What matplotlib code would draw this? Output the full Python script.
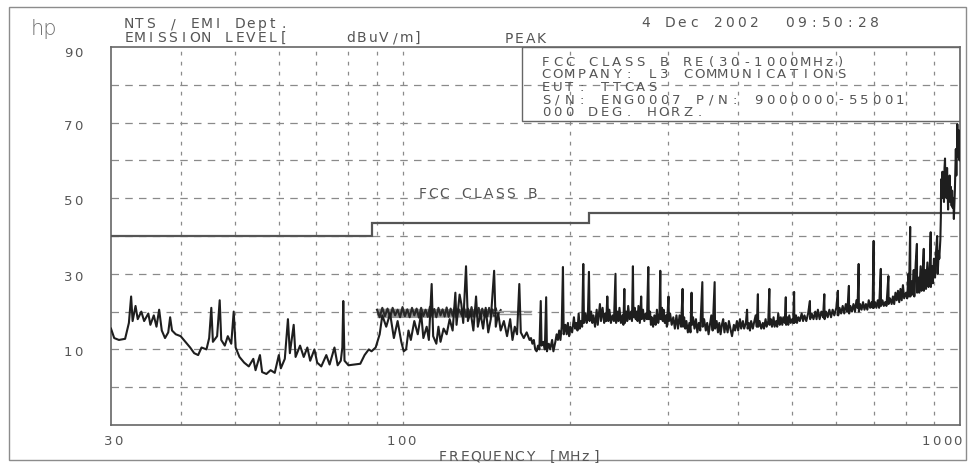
import matplotlib
matplotlib.use('Agg')
import matplotlib.pyplot as plt
from matplotlib.patches import Rectangle
from matplotlib.ticker import NullLocator


# ============================================================================
# Scan data: radiated emissions, peak detector
# frequency [MHz] / level [dBuV/m]
# ============================================================================

# 30 - 88 MHz
low_f = [
    30.0, 30.4, 31.0, 31.8, 32.3, 32.6, 32.8, 33.2, 33.5, 34.0, 34.4, 35.0, 35.3, 35.8,
    36.2, 36.6, 37.0, 37.5, 38.0, 38.3, 38.6, 39.2, 40.0, 40.8, 41.6, 42.3, 43.0, 43.6,
    44.5, 45.0, 45.4, 45.7, 46.5, 47.0, 47.3, 48.0, 48.6, 49.3, 49.8, 50.2, 51.0, 52.0,
    53.0, 54.0, 54.5, 55.5, 56.0, 57.0, 58.0, 59.0, 60.0, 60.5, 61.5, 62.3, 62.8, 63.8,
    64.3, 65.5, 66.5, 67.5, 68.3, 69.5, 70.3, 71.5, 73.0, 74.0, 75.5, 76.5, 77.5, 78.0,
    78.3, 78.7, 80.0, 82.0, 84.0, 85.5, 87.0,
]
low_db = [
    15.5, 13.0, 12.5, 12.8, 17.0, 24.0, 17.5, 21.5, 18.0, 20.0, 17.5, 19.5, 16.5, 19.0,
    16.0, 20.5, 15.0, 13.0, 14.5, 18.5, 15.0, 14.0, 13.5, 12.0, 10.5, 9.0, 8.5, 10.5,
    10.0, 13.0, 21.0, 12.0, 13.5, 23.0, 12.5, 11.0, 13.5, 11.5, 20.0, 10.5, 8.0, 6.5,
    5.5, 7.5, 4.5, 8.5, 4.0, 3.5, 4.5, 3.8, 8.5, 5.0, 7.5, 18.0, 9.0, 16.5,
    8.0, 11.0, 8.0, 10.5, 7.0, 10.0, 6.5, 5.5, 8.5, 6.0, 10.5, 5.8, 7.0, 10.5,
    22.8, 7.0, 5.8, 6.0, 6.2, 8.5, 10.0,
]

# 88 - 170 MHz
mid_f = [
    88.0, 89.5, 91.0, 92.0, 93.5, 95.0, 96.5, 98.0, 99.5, 100.5, 101.5, 102.5, 103.5,
    105.0, 106.5, 108.0, 109.0, 110.5, 111.5, 112.8, 113.5, 115.0, 116.0, 117.0, 118.5,
    120.0, 121.5, 123.0, 124.4, 125.0, 126.6, 127.5, 128.5, 130.0, 131.0, 132.5, 134.0,
    135.5, 136.5, 138.0, 139.5, 141.0, 142.5, 144.0, 146.0, 147.0, 148.5, 150.0, 152.0,
    154.0, 156.0, 157.5, 159.0, 160.5, 162.0, 163.0, 165.0, 167.0, 169.0,
]
mid_db = [
    9.5, 10.5, 14.0, 19.0, 16.0, 19.5, 13.0, 17.5, 12.0, 9.5, 10.0, 15.0, 12.5,
    17.5, 14.0, 19.5, 13.0, 16.0, 12.5, 27.3, 13.5, 11.5, 16.0, 12.0, 15.5,
    14.0, 18.0, 15.0, 25.0, 16.5, 24.5, 22.0, 17.0, 32.0, 17.5, 20.0, 15.0,
    24.0, 16.0, 19.5, 15.5, 21.0, 14.5, 18.0, 30.8, 16.0, 19.5, 15.0, 17.5,
    13.5, 18.0, 12.5, 16.0, 14.0, 27.3, 14.5, 13.0, 14.5, 12.5,
]

# 170 - 1000 MHz
high_f = [
    170, 171, 172, 173, 174, 175, 176, 177, 177.6, 179, 180, 181, 181.6, 183, 184, 185.5,
    186.5, 188, 189, 190, 191, 192, 193, 194, 194.6, 196, 197, 198, 199, 200, 201.5, 203,
    204, 205, 206, 207, 208, 209, 210, 211, 211.6, 213, 214, 215, 216, 216.6, 218, 219,
    220, 221.5, 223, 224, 226, 227, 228.5, 230, 231, 232, 233, 234, 235, 236.5, 238, 239.5,
    241, 241.6, 243, 244, 245, 246.5, 248, 249, 250, 250.6, 252, 253, 254, 255.5, 257, 258,
    259, 259.6, 261, 262, 263, 264, 265, 266.5, 268, 268.6, 270, 271.5, 273, 274.5, 276,
    276.6, 278, 279, 280, 281.5, 283, 284.5, 286, 287.5, 289, 290, 290.6, 292, 293, 294,
    295.5, 297, 298, 300, 300.6, 302, 304, 306, 308, 310, 312, 314, 316, 318, 318.6, 320,
    321.5, 323, 325, 327, 328.5, 330, 330.6, 332, 334, 336, 338, 340, 342, 345, 345.6,
    347.5, 350, 352, 354, 356, 358, 360, 363, 363.6, 366, 368, 370, 372, 374, 376, 378,
    380, 383, 385, 388, 390, 393, 395, 398, 400, 403, 405, 408, 410, 413, 415, 416, 418,
    420, 422, 425, 427, 430, 432, 434, 434.6, 437, 440, 443, 445, 448, 450, 453, 455,
    455.6, 458, 460, 463, 465, 468, 470, 472, 475, 477, 480, 482, 485, 487, 487.6, 490,
    492, 494, 497, 500, 502, 504, 504.6, 508, 510, 513, 516, 520, 523, 526, 530, 534, 538,
    538.6, 542, 546, 550, 553, 556, 560, 564, 568, 571, 571.6, 575, 579, 583, 587, 591,
    595, 600, 604, 604.6, 608, 612, 616, 620, 624, 628, 632, 632.6, 636, 640, 644, 648,
    652, 655, 658, 658.6, 662, 666, 670, 674, 678, 682, 686, 690, 694, 697, 700, 700.6,
    704, 708, 712, 716, 721, 721.6, 726, 730, 734, 738, 744, 744.6, 749, 754, 758, 762,
    766, 770, 774, 778, 782, 786, 790, 794, 800, 804, 808, 810, 814, 814.6, 819, 822, 826,
    828, 833, 837, 837.6, 842, 845, 850, 853, 857, 861, 861.6, 866, 869, 874, 878, 882,
    886, 886.6, 891, 894, 898, 902, 906, 910, 912, 916, 918, 922, 924, 925, 928, 930, 932,
    934, 936, 938, 940, 942, 944, 946, 948, 950, 952, 954, 956, 958, 960, 963, 966, 968,
    970, 973, 975, 977, 979, 981, 983, 985, 986, 988, 989, 991, 992, 994, 995, 997, 998,
    999, 1000,
]
high_db = [
    13.0, 11.5, 12.5, 10.0, 9.5, 11.0, 10.0, 22.8, 11.0, 12.0, 10.0, 23.8, 9.5, 11.5, 10.0, 12.5,
    9.5, 12.0, 14.0, 12.5, 15.0, 12.5, 16.0, 31.8, 14.0, 16.5, 14.0, 17.0, 13.5, 16.0, 14.5, 18.5,
    15.5, 17.0, 15.0, 19.5, 15.5, 17.5, 16.0, 32.6, 17.0, 19.5, 17.0, 18.5, 30.5, 17.5, 20.0, 17.0,
    19.0, 16.0, 20.5, 16.5, 22.0, 17.5, 21.0, 17.0, 19.5, 17.5, 24.0, 17.5, 20.5, 17.0, 19.0, 17.5,
    30.0, 17.0, 20.0, 17.5, 21.0, 17.0, 19.0, 16.5, 26.0, 17.0, 20.0, 17.5, 21.5, 18.0, 20.0, 17.5,
    32.0, 18.5, 21.0, 18.0, 20.0, 17.5, 21.5, 17.0, 24.0, 18.0, 20.5, 17.5, 19.5, 18.0, 31.8,
    18.0, 20.0, 16.5, 18.5, 16.0, 19.0, 16.5, 20.5, 17.0, 19.0, 30.8, 18.0, 21.0, 17.5, 20.5,
    17.0, 19.0, 16.0, 24.0, 17.5, 19.5, 16.5, 18.5, 15.5, 19.0, 15.5, 19.0, 16.0, 26.0, 16.0, 18.5,
    15.5, 17.5, 14.5, 17.0, 14.5, 25.0, 16.5, 18.5, 15.5, 18.0, 14.5, 17.0, 15.0, 27.8, 16.0,
    18.0, 15.0, 17.0, 14.0, 16.5, 19.0, 15.0, 27.8, 15.5, 17.5, 14.5, 17.0, 14.0, 16.5, 18.0, 14.5,
    17.0, 14.5, 17.5, 15.0, 13.5, 16.5, 15.0, 17.5, 15.0, 18.0, 15.5, 17.5, 15.5, 17.0, 20.5, 15.5, 17.0,
    15.0, 17.5, 15.5, 17.0, 19.0, 16.0, 24.6, 16.0, 17.5, 15.5, 17.0, 15.5, 18.0, 16.0, 17.5, 26.0,
    16.5, 18.0, 16.0, 18.5, 16.0, 17.5, 16.0, 19.5, 16.5, 18.5, 16.5, 18.5, 17.0, 23.8, 16.5, 18.5,
    16.5, 19.0, 17.0, 18.0, 17.0, 25.2, 17.0, 19.0, 17.0, 18.5, 17.5, 19.5, 17.5, 19.0, 17.5, 19.5, 22.8,
    18.0, 19.5, 18.0, 20.0, 18.0, 20.5, 18.0, 20.0, 18.5, 24.6, 18.0, 20.0, 18.5, 20.5, 18.5, 20.5,
    19.0, 21.0, 25.5, 19.0, 21.0, 19.5, 21.5, 19.5, 22.0, 20.0, 26.8, 19.5, 21.5, 20.0, 22.0, 20.0,
    23.0, 21.0, 32.6, 20.0, 22.0, 20.5, 22.5, 20.5, 22.0, 20.5, 23.0, 21.0, 22.5, 21.0, 38.7, 21.0,
    22.5, 21.0, 23.0, 21.0, 31.3, 21.5, 23.0, 21.5, 22.5, 21.5, 29.4, 22.0, 23.5, 22.0, 24.0, 22.0,
    25.0, 23.0, 25.5, 22.5, 26.0, 23.0, 27.0, 23.5, 25.0, 23.5, 30.0, 24.0, 42.4, 24.0, 28.0, 24.5, 31.0,
    24.0, 33.0, 37.9, 25.0, 29.0, 25.0, 32.0, 25.5, 30.0, 36.6, 25.5, 31.0, 26.0, 33.0, 26.5, 30.0,
    41.0, 26.5, 32.0, 27.5, 34.0, 29.0, 36.0, 40.0, 30.0, 36.0, 34.0, 39.0, 45.0, 55.0, 50.0, 57.0, 52.0,
    56.0, 49.0, 58.0, 60.5, 51.0, 56.0, 50.0, 58.0, 52.0, 47.0, 55.0, 52.0, 56.0, 49.0, 53.0, 48.0, 52.0,
    47.5, 50.0, 44.5, 48.0, 52.0, 58.0, 63.0, 56.0, 60.0, 64.0, 69.6, 61.0, 66.0, 62.0, 68.0, 63.0, 60.0,
    67.0, 66.0,
]

# dense max-hold band between 90 and 150 MHz
band_f = [
    90, 91, 92, 93, 94, 95, 96, 97, 98, 99, 100, 101, 102, 103, 104, 105, 106, 107, 108,
    109, 110, 111, 112, 113, 114, 115, 116, 117, 118, 119, 120, 121, 122, 123, 124, 125,
    126, 128, 129, 130, 131, 132, 133, 134, 135, 136, 137, 138, 139, 140, 141, 142, 143,
    144, 145, 146, 147, 148, 150,
]
band_db = [
    20.5, 18.5, 21.0, 18.8, 20.8, 18.5, 21.0, 19.0, 20.5, 18.5, 21.2, 18.8, 20.6, 18.5,
    21.0, 19.0, 20.8, 18.4, 21.0, 18.8, 20.5, 18.6, 21.3, 18.9, 20.7, 18.5, 21.0, 19.0,
    20.6, 18.7, 21.1, 18.6, 20.8, 18.9, 21.0, 18.5, 20.7, 18.8, 21.0, 18.6, 20.8, 19.0,
    21.2, 18.7, 20.6, 18.9, 21.0, 18.6, 20.8, 19.0, 20.5, 18.8, 21.0, 19.2, 20.6, 18.9,
    20.9, 19.1, 20.4,
]
band_span_f = [90, 146]
band_lo = [18.4, 18.6]
band_hi = [20.9, 20.8]
tail_f = [146, 170]
tail_db = [20.2, 19.4]

# FCC class B limit (3 m)
limit_edges = [30, 88, 216, 1000]
limit_db = [40, 43.5, 46]

grid_f = [40, 50, 60, 70, 80, 90, 100, 200, 300, 400, 500, 600, 700, 800, 900]
grid_db = [0, 10, 20, 30, 40, 50, 60, 70, 80]

ytick_db = [90, 70, 50, 30, 10]
ytick_labels = ['90', '70', '50', '30', '10']
xtick_labels = ['30', '100', '1000']

info_lines = [
    'FCC CLASS B RE(30-1000MHz)',
    'COMPANY: L3 COMMUNICATIONS',
    'EUT: TTCAS',
    'S/N: ENG0007 P/N: 9000000-55001',
    '000 DEG. HORZ.',
]


# ============================================================================
# Plot
# ============================================================================
W, H = 969, 464
PEN_FONT = 'DejaVu Sans'
TXT = '#555555'
TRACE = '#1e1e1e'

fig = plt.figure(figsize=(W / 100, H / 100), dpi=100)
fig.patch.set_facecolor('white')


def px(x, y):
    # pixel position -> figure fraction
    return x / W, 1 - y / H


def plotter_text(x, y, s, pitch=11.5, size=10, color=TXT):
    # pen plotter lettering: fixed wide pitch, x = left edge, y = baseline (pixels)
    for i, ch in enumerate(s):
        if ch == ' ':
            continue
        fig.text(*px(x + (i + 0.5) * pitch, y), ch, family=PEN_FONT, fontsize=size,
                 color=color, ha='center', va='baseline')


# outer frame of the plot sheet
fig.add_artist(Rectangle(px(9, 461), 957 / W, 453 / H, transform=fig.transFigure,
                         fill=False, edgecolor='#8c8c8c', linewidth=1.0))

ax = fig.add_axes([111 / W, 1 - 426 / H, (960 - 111) / W, (426 - 48) / H])
ax.set_xscale('log')
ax.set_xlim(30, 1000)
ax.set_ylim(-10, 90)
ax.set_xticks([])
ax.set_yticks([])
ax.xaxis.set_minor_locator(NullLocator())
for s in ax.spines.values():
    s.set_color('#666666')
    s.set_linewidth(1.2)

for f in grid_f:
    ax.axvline(f, color='#8a8a8a', linewidth=0.9, linestyle=(0, (3, 5)), zorder=1)
for d in grid_db:
    ax.axhline(d, color='#8a8a8a', linewidth=0.9, linestyle=(0, (6, 5)), zorder=1)

ax.stairs(limit_db, limit_edges, color='#555555', linewidth=1.6, baseline=None, zorder=3)

ax.fill_between(band_span_f, band_lo, band_hi, color='#3c3c3c', alpha=0.55,
                linewidth=0, zorder=4)
ax.plot(band_f, band_db, color='#2a2a2a', linewidth=1.5, zorder=4)
ax.plot(tail_f, [tail_db[0]] * 2, color='#999999', linewidth=1.0, zorder=4)
ax.plot(tail_f, [tail_db[1]] * 2, color='#999999', linewidth=1.0, zorder=4)

ax.plot(low_f + mid_f + high_f, low_db + mid_db + high_db, color=TRACE,
        linewidth=1.5, zorder=5)

# info box in the upper right corner
ax.add_patch(Rectangle((164, 70.4), 1000 - 164, 19.6, fill=False,
                       edgecolor='#666666', linewidth=1.0, zorder=6))
info_base = [66, 78.5, 91, 103.5, 116]
for yb, line in zip(info_base, info_lines):
    plotter_text(540, yb, line, pitch=11.8, size=9.5)

plotter_text(417, 198, 'FCC CLASS B', pitch=11.0, size=10)

# axis labels
for d, lab in zip(ytick_db, ytick_labels):
    yc = 48 + (90 - d) * 3.78 + (4 if d == 90 else 1)
    plotter_text(63, yc + 5, lab, pitch=10, size=9.5)
for xc, lab in zip([113, 401, 942], xtick_labels):
    plotter_text(xc - len(lab) * 5.25, 445, lab, pitch=10.5, size=9.5)

plotter_text(437, 461, 'FREQUENCY [MHz]', pitch=11.0, size=10)

# header
fig.text(*px(31, 35), 'hp', family='DejaVu Sans', fontsize=15, color='#6e6e6e',
         fontweight='light', va='baseline')
plotter_text(123, 28, 'NTS / EMI Dept.', pitch=11.1, size=10)
plotter_text(123, 42, 'EMISSION LEVEL[     dBuV/m]', pitch=11.1, size=10)
plotter_text(503, 43, 'PEAK', pitch=11.0, size=10)
plotter_text(640, 27, '4 Dec 2002  09:50:28', pitch=12.0, size=10)

fig.savefig('out.png', dpi=100, facecolor='white')
